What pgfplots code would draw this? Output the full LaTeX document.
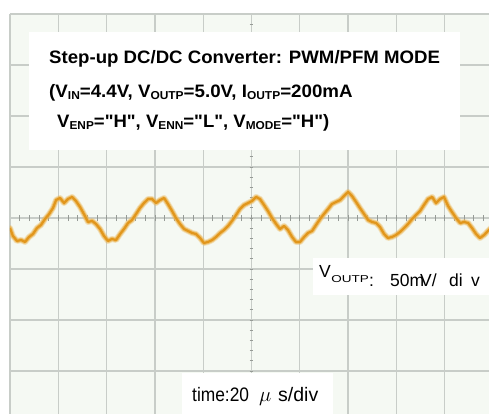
\documentclass[border=0pt]{standalone}
\usepackage{fontspec}
\setmainfont{Liberation Sans}[Ligatures=TeXOff]
\usepackage{pgfplots}
\usepackage{pgfplotstable}
\pgfplotsset{compat=1.18}
\definecolor{scopebg}{RGB}{245,249,243}
\definecolor{gridc}{RGB}{200,205,200}
\definecolor{tickc}{RGB}{150,155,150}
\definecolor{trace}{RGB}{225,150,28}
\definecolor{tracelight}{RGB}{236,182,85}
\newcommand{\sub}[1]{\raisebox{-1.6pt}{\fontsize{11.5}{12}\selectfont #1}}

% time in microseconds, V_OUTP ripple in mV
\pgfplotstableread{
t mv
0.0 -9.8
1.2 -17.6
2.9 -22.5
4.6 -21.6
6.2 -23.5
7.9 -18.6
9.5 -15.7
11.2 -9.8
12.8 -6.9
14.5 -1.0
16.2 3.9
17.8 9.8
19.1 17.6
20.7 19.6
22.4 14.7
24.0 18.6
25.7 20.6
27.3 16.7
29.0 10.8
30.6 3.9
32.3 -3.9
34.0 -2.9
35.6 -5.9
37.3 -10.8
38.9 -17.6
40.6 -22.5
42.2 -20.6
43.9 -21.6
45.6 -15.7
47.2 -10.8
48.9 -4.9
50.5 -2.0
52.2 3.9
53.8 9.8
55.5 14.7
57.2 18.6
58.8 18.6
60.5 14.7
62.1 17.6
63.8 19.6
65.4 13.7
67.1 6.9
68.7 0.0
70.4 -5.9
72.1 -10.8
73.7 -12.7
75.4 -14.7
77.0 -15.7
78.7 -19.6
80.3 -24.5
82.0 -23.5
83.7 -21.6
85.3 -18.6
87.0 -14.7
88.6 -11.8
90.3 -7.8
91.9 -2.9
93.6 2.9
95.2 8.8
96.9 12.7
98.6 14.7
100.2 16.7
101.9 20.6
103.5 18.6
105.2 12.7
106.8 6.9
108.5 0.0
110.2 -5.9
111.8 -10.8
113.5 -7.8
115.1 -11.8
116.8 -18.6
118.4 -23.5
120.1 -23.5
121.8 -18.6
123.4 -14.7
125.1 -12.7
126.7 -6.9
128.4 -1.0
130.0 3.9
131.7 8.8
133.3 13.7
135.0 15.7
136.7 17.6
138.3 21.6
140.0 25.5
141.6 21.6
143.3 15.7
144.9 9.8
146.6 3.9
148.3 -2.0
149.9 -3.9
151.6 -4.9
153.2 -8.8
154.9 -15.7
156.5 -19.6
158.2 -18.6
159.8 -16.7
161.5 -13.7
163.2 -9.8
164.8 -5.9
166.5 -1.0
168.1 2.9
169.8 6.9
171.4 12.7
173.1 18.6
174.8 20.6
176.4 14.7
178.1 18.6
179.7 20.6
181.4 11.8
183.0 5.9
184.7 0.0
186.4 -4.9
188.0 -3.9
189.7 -4.9
191.3 -9.8
193.0 -15.7
194.6 -19.6
196.3 -16.7
197.9 -12.7
199.6 -8.8
}\wave

\begin{document}
\begin{tikzpicture}[x=1pt,y=1pt]
\path[use as bounding box] (0,0) rectangle (489,414);
\begin{axis}[
  at={(10pt,0pt)}, anchor=south west,
  scale only axis, width=479pt, height=400pt,
  xmin=0, xmax=198.34, ymin=-192.16, ymax=200,
  xtick={0,20,...,180}, ytick={-150,-100,...,200},
  xticklabels={}, yticklabels={},
  major tick length=0pt,
  grid=major,
  major grid style={draw=gridc, line width=1.3pt},
  axis line style={draw=none},
  axis background/.style={fill=scopebg},
]
\pgfplotsinvokeforeach{4,8,...,196}{\draw[tickc, line width=0.8pt] (axis cs:#1,-3) -- (axis cs:#1,3);}
\pgfplotsinvokeforeach{-190,-180,...,190}{\draw[tickc, line width=0.8pt] (axis cs:99.2,#1) -- (axis cs:100.8,#1);}
\addplot[tracelight, line width=6pt, opacity=0.35, line join=round, line cap=round] table[x=t,y=mv] {\wave};
\addplot[tracelight, line width=4.2pt, opacity=0.75, line join=round, line cap=round] table[x=t,y=mv] {\wave};
\addplot[trace, line width=2.2pt, line join=round] table[x=t,y=mv] {\wave};
\end{axis}
\tikzset{every node/.style={inner sep=0pt, anchor=base west}}
% title box
\fill[white] (29,264) rectangle (460,382);
\node[font=\fontsize{18}{20}\selectfont\bfseries, xscale=1.035] at (49,350) {Step-up DC/DC Converter: PWM/PFM MODE};
\node[font=\fontsize{18}{20}\selectfont\bfseries, xscale=1.04] at (49,316) {(V\sub{IN}=4.4V, V\sub{OUTP}=5.0V, I\sub{OUTP}=200mA};
\node[font=\fontsize{18}{20}\selectfont\bfseries, xscale=1.03] at (57,286) {V\sub{ENP}="H", V\sub{ENN}="L", V\sub{MODE}="H")};
% volt/div box
\fill[white] (313,119) rectangle (489,156);
\node[font=\fontsize{17.5}{20}\selectfont] at (319,136) {V};
\node[font=\fontsize{10}{10}\selectfont, xscale=1.35] at (331,131) {OUTP};
\node[font=\fontsize{17.5}{20}\selectfont] at (369,127) {:};
\node[font=\fontsize{17.5}{20}\selectfont] at (390,127) {50m};
\node[font=\fontsize{17.5}{20}\selectfont] at (420,127) {V/};
\node[font=\fontsize{17.5}{20}\selectfont] at (449,127) {di};
\node[font=\fontsize{17.5}{20}\selectfont] at (471,127) {v};
% time/div box
\fill[white] (182,0) rectangle (333,41);
\node[font=\fontsize{19.5}{22}\selectfont, xscale=0.89] at (192,12) {time:20};
\node[font=\fontsize{19.5}{22}\selectfont] at (259,12) {$\mu$};
\node[font=\fontsize{19.5}{22}\selectfont] at (278,12) {s/div};
\end{tikzpicture}
\end{document}
